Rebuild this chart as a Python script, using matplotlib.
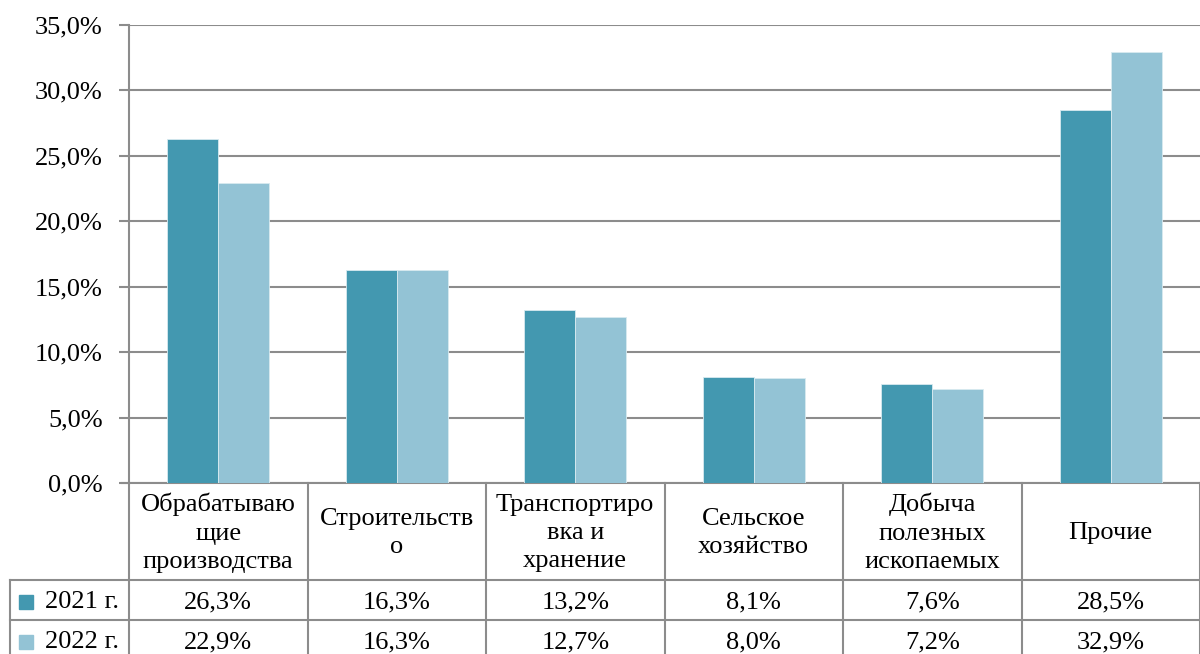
import matplotlib
matplotlib.use("Agg")
import matplotlib.pyplot as plt
from matplotlib.transforms import blended_transform_factory
import numpy as np

categories = ["Обрабатываю\nщие\nпроизводства", "Строительств\nо", "Транспортиро\nвка и\nхранение",
              "Сельское\nхозяйство", "Добыча\nполезных\nископаемых", "Прочие"]
series_names = ["2021 г.", "2022 г."]
values_2021 = [26.3, 16.3, 13.2, 8.1, 7.6, 28.5]
values_2022 = [22.9, 16.3, 12.7, 8.0, 7.2, 32.9]
yticks = [0, 5, 10, 15, 20, 25, 30, 35]

colors = ["#4398b0", "#93c3d5"]
grid_c = "#8c8c8c"
FS = 19
plt.rcParams['font.family'] = ['Liberation Serif', 'DejaVu Serif']

W, H = 1200, 654
fig = plt.figure(figsize=(W / 100, H / 100), dpi=100)
left_px, right_px, top_px, bot_px = 129, 1200, 25, 483
ax = fig.add_axes([left_px / W, 1 - bot_px / H, (right_px - left_px) / W, (bot_px - top_px) / H])

x = np.arange(len(categories))
bw = 0.287
ax.bar(x - bw / 2, values_2021, bw, color=colors[0], edgecolor="#d8eaf0", linewidth=0.6, zorder=3)
ax.bar(x + bw / 2, values_2022, bw, color=colors[1], edgecolor="#d8eaf0", linewidth=0.6, zorder=3)
ax.set_xlim(-0.5, len(categories) - 0.5)
ax.set_ylim(0, 35)
ax.set_yticks(yticks)
ax.set_yticklabels([f"{v:.1f}%".replace(".", ",") for v in yticks], fontsize=FS)
ax.tick_params(axis="y", length=7, width=1.5, color=grid_c, pad=12)
ax.tick_params(axis="x", length=0, labelbottom=False)
ax.yaxis.grid(True, color=grid_c, linewidth=1.5, zorder=0)
for s in ["top", "right", "bottom"]:
    ax.spines[s].set_visible(False)
ax.spines["left"].set_color(grid_c)
ax.spines["left"].set_linewidth(1.5)

# data table below
tr = blended_transform_factory(ax.transData, fig.transFigure)
def fy(py):
    return 1 - py / H
cat_w = (right_px - left_px) / len(categories)
x_leg_left = -0.5 - (left_px - 10) / cat_w
lkw = dict(color=grid_c, linewidth=1.5, transform=tr, clip_on=False)
ax.plot([-0.5 - 7 / cat_w, len(categories) - 0.5], [fy(bot_px)] * 2, **lkw)
row_lines = [580, 620, 660]
for py in row_lines:
    ax.plot([x_leg_left, len(categories) - 0.5], [fy(py)] * 2, **lkw)
for i in range(len(categories) + 1):
    ax.plot([i - 0.5] * 2, [fy(bot_px), fy(660)], **lkw)
ax.plot([x_leg_left] * 2, [fy(580), fy(660)], **lkw)

for i, c in enumerate(categories):
    ax.text(i, fy(533), c, transform=tr, ha="center", va="center", fontsize=FS,
            linespacing=1.38, clip_on=False)
rows = [values_2021, values_2022]
row_y = [602, 642]
for r, (vals, yy) in enumerate(zip(rows, row_y)):
    for i, v in enumerate(vals):
        ax.text(i, fy(yy), f"{v:.1f}%".replace(".", ","), transform=tr, ha="center",
                va="center", fontsize=FS, clip_on=False)
    fig.patches.append(plt.Rectangle((19 / W, fy(yy + 7)), 14 / W, 14 / H, transform=fig.transFigure,
                                     color=colors[r]))
    fig.text(82 / W, fy(yy), series_names[r], ha="center", va="center", fontsize=FS)

fig.savefig("out.png", dpi=100)
